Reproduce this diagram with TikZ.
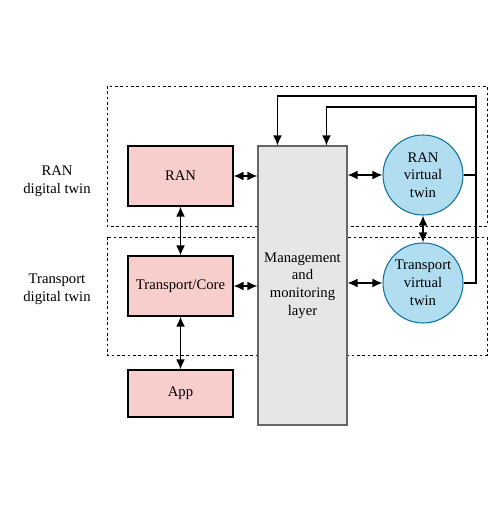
\documentclass[tikz,border=0pt]{standalone}
\usepackage{fontspec}
\setmainfont{Liberation Serif}
\usetikzlibrary{arrows.meta}
\tikzset{>={Latex[length=7.5pt,width=6.5pt]}}
\definecolor{pink_fill}{HTML}{F8CECC}
\definecolor{grey_fill}{HTML}{E6E6E6}
\definecolor{grey_line}{HTML}{666666}
\definecolor{blue_fill}{HTML}{B1DDF0}
\definecolor{blue_line}{HTML}{10739E}

\begin{document}
\begin{tikzpicture}[x=0.75pt, y=-0.75pt,
		font=\fontsize{11}{13.3}\selectfont,
		domain_box/.style={draw, line width=0.6pt, dash pattern=on 2pt off 2pt},
		net_box/.style={draw, fill=pink_fill, line width=0.8pt, minimum width=78.75pt, minimum height=45pt, inner sep=0pt},
		twin_circle/.style={circle, draw=blue_line, fill=blue_fill, line width=0.8pt, minimum size=60pt, inner sep=0pt, align=center},
		link/.style={<->, line width=0.9pt}]
		\useasboundingbox (0,0) rectangle (500,505);
		
		% digital twin domains
		\draw[domain_box] (107,86) rectangle (487,226);
		\draw[domain_box] (107,237) rectangle (487,355);
		\node[align=center] (ran_dt_label) at (57,181) {RAN\\digital twin};
		\node[align=center] (transport_dt_label) at (57,289) {Transport\\digital twin};
		
		% physical side
		\node[net_box] (ran) at (180.5,176) {RAN};
		\node[net_box] (transport) at (180.5,286) {Transport/Core};
		\node[net_box, minimum height=35.25pt] (app) at (180.5,393.5) {App};
		
		\node[draw=grey_line, fill=grey_fill, line width=0.8pt, minimum width=66.75pt, minimum height=209.25pt, align=center] (mgmt) at (302.5,285.5) {Management\\and\\monitoring\\layer};
		
		% virtual side
		\node[twin_circle] (ran_twin) at (423,175) {RAN\\virtual\\twin};
		\node[twin_circle] (transport_twin) at (423,283) {Transport\\virtual\\twin};
		
		\draw[link] (ran.east) -- (ran.east -| mgmt.west);
		\draw[link] (transport.east) -- (transport.east -| mgmt.west);
		\draw[link] (ran.south) -- (transport.north);
		\draw[link] (transport.south) -- (app.north);
		\draw[link] (ran_twin.west -| mgmt.east) -- (ran_twin.west);
		\draw[link] (transport_twin.west -| mgmt.east) -- (transport_twin.west);
		\draw[link] (ran_twin.south) -- (transport_twin.north);
		
		% feedback to the management layer
		\coordinate (fb_outer) at (476,96);
		\coordinate (fb_inner) at (476,107);
		\draw[->, line width=0.9pt] (transport_twin.east) -| (fb_outer) -| ([xshift=15pt]mgmt.north west);
		\draw[->, line width=0.9pt] (ran_twin.east) -| (fb_inner) -| ([xshift=51.75pt]mgmt.north west);
		
	\end{tikzpicture}
\end{document}
